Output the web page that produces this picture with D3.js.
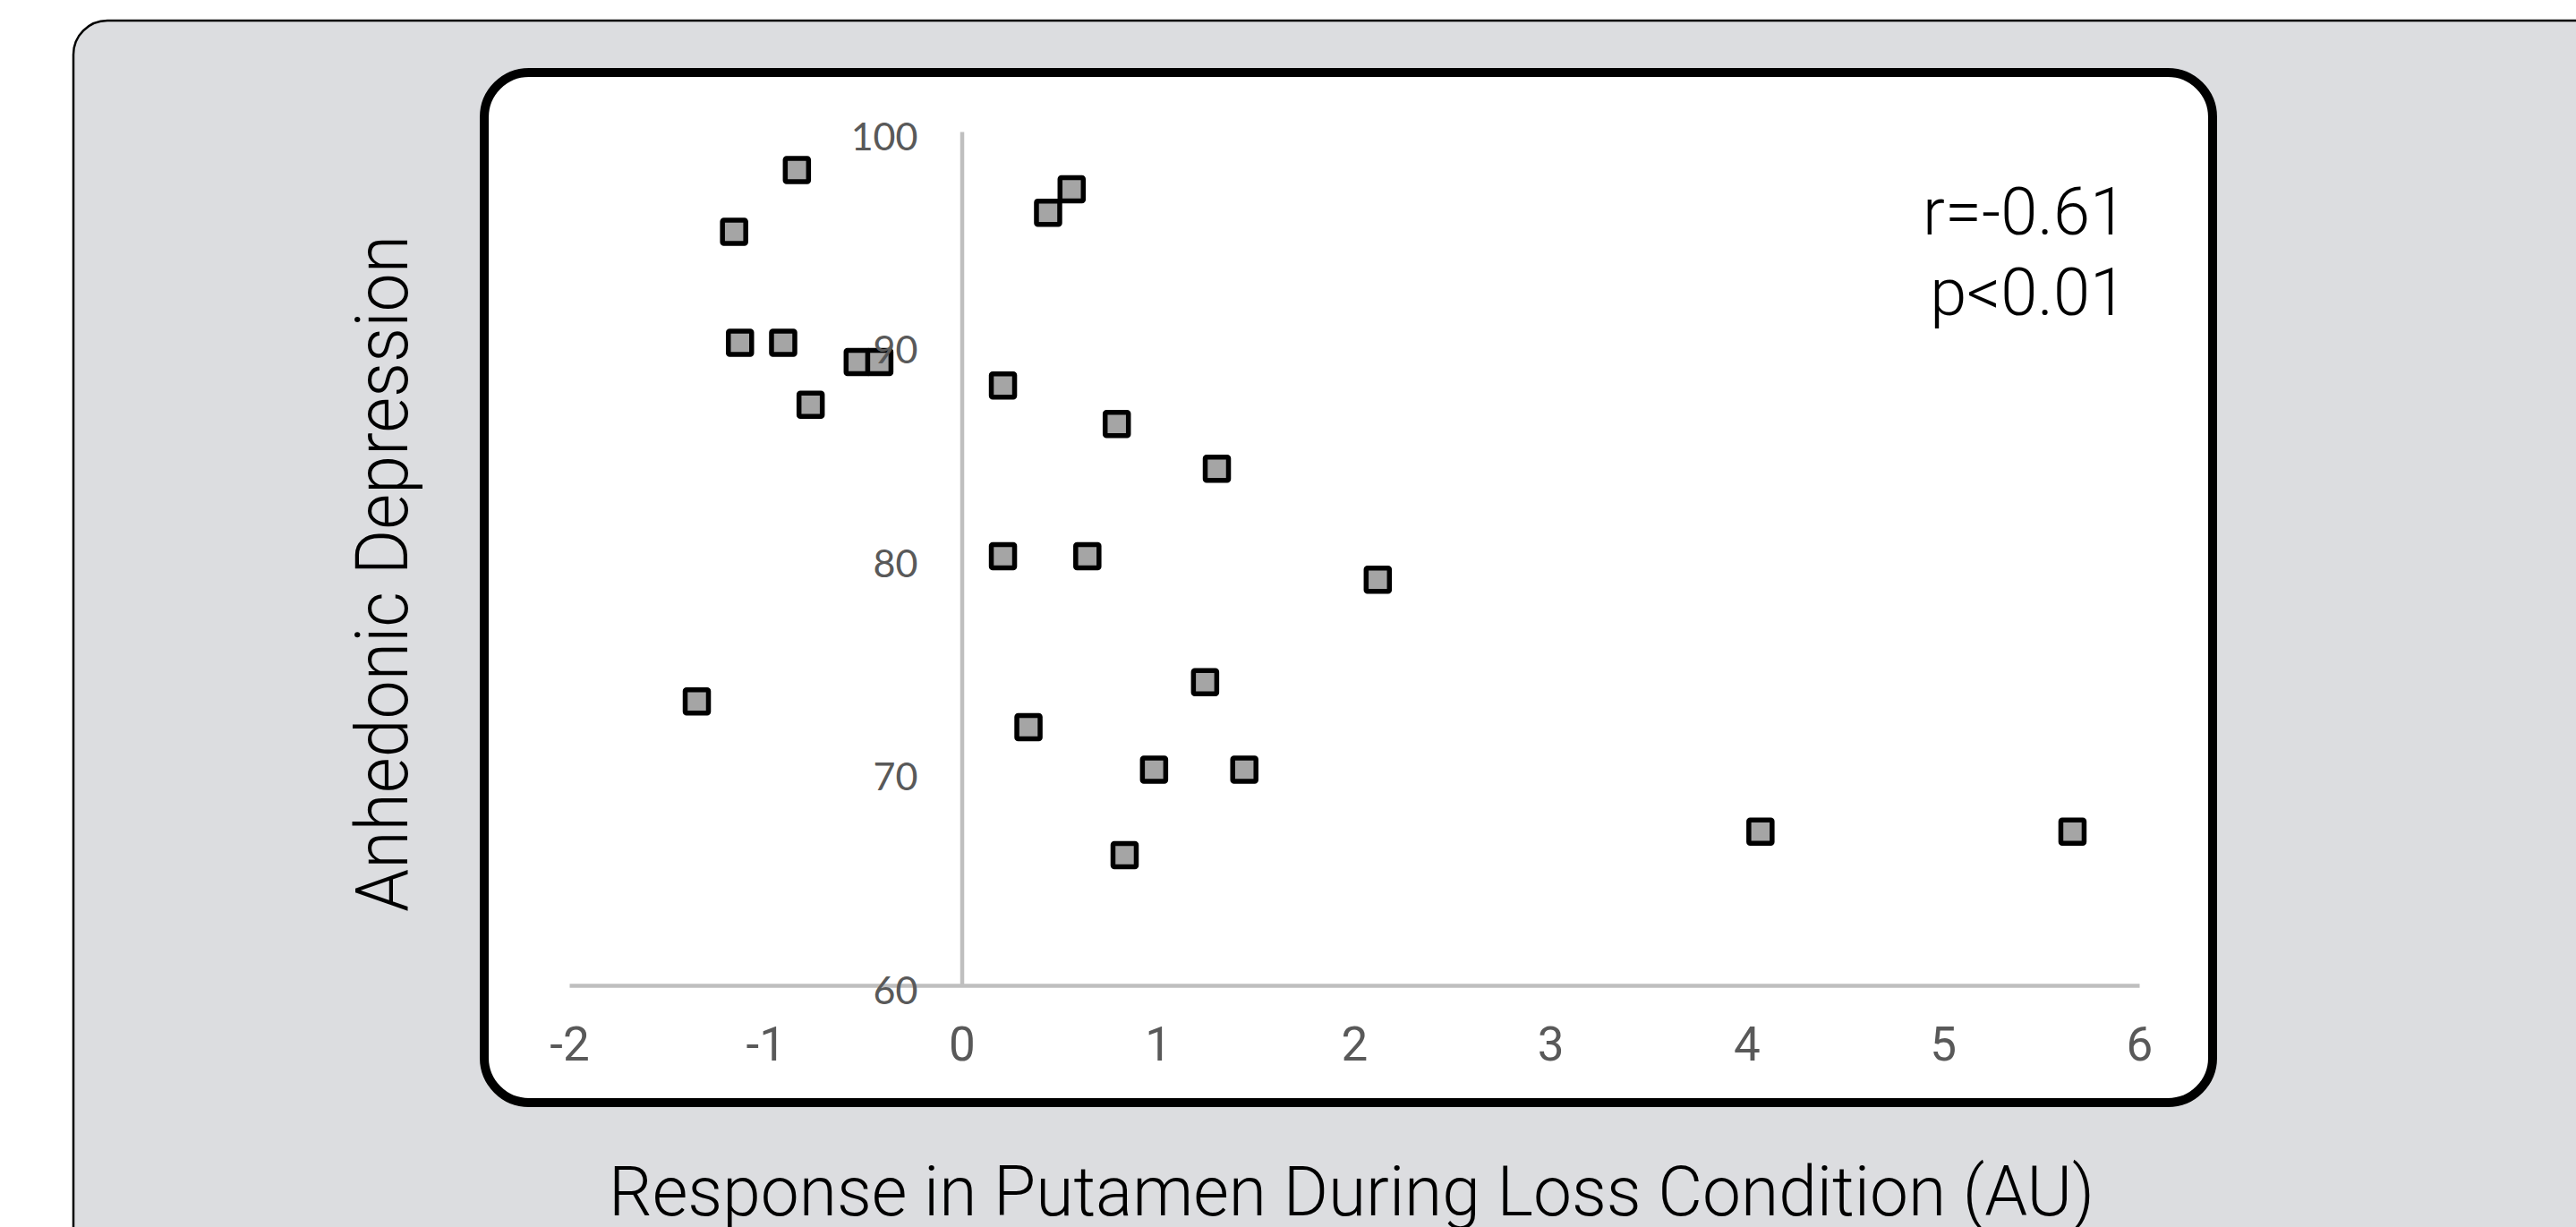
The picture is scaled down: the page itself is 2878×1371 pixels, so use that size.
<!DOCTYPE html>
<html>
<head>
<meta charset="utf-8">
<script src="https://cdn.jsdelivr.net/npm/d3@7"></script>
<style>
  html, body { margin: 0; padding: 0; background: #ffffff; }
  svg { display: block; }
</style>
</head>
<body>
<div id="chart"></div>
<script>
// response in putamen (AU) for each subject
const putamenResponse = [-0.84, -1.16, -1.13, -0.91, -0.53, -0.42, -0.77, -1.35,
    0.44, 0.56, 0.21, 0.79, 1.30, 0.21, 0.64, 2.12, 1.24, 0.34, 0.98, 1.44, 0.83, 4.07, 5.66];
// anhedonic depression score, same order
const anhedonicScore = [98.2, 95.3, 90.1, 90.1, 89.2, 89.2, 87.2, 73.3,
    96.2, 97.3, 88.1, 86.3, 84.2, 80.1, 80.1, 79.0, 74.2, 72.1, 70.1, 70.1, 66.1, 67.2, 67.2];
const xTicks = [-2, -1, 0, 1, 2, 3, 4, 5, 6];
const yTicks = [60, 70, 80, 90, 100];
const xTitle = "Response in Putamen During Loss Condition (AU)";
const yTitle = "Anhedonic Depression";
const statLines = ["r=-0.61", "p<0.01"];

const width = 2878, height = 1371;

const svg = d3.select("#chart").append("svg")
    .attr("width", width)
    .attr("height", height);

// grey background panel, runs off the right/bottom edge
svg.append("rect")
    .attr("x", 82).attr("y", 23)
    .attr("width", 2900).attr("height", 1400)
    .attr("rx", 38)
    .attr("fill", "#dcdde0")
    .attr("stroke", "#000").attr("stroke-width", 2.5);

// white plot card
svg.append("rect")
    .attr("x", 541).attr("y", 81)
    .attr("width", 1931).attr("height", 1151)
    .attr("rx", 50)
    .attr("fill", "#fff")
    .attr("stroke", "#000").attr("stroke-width", 10);

const x = d3.scaleLinear().domain([-2, 6]).range([636, 2390]);
const y = d3.scaleLinear().domain([60, 100]).range([1101, 147]);

const data = putamenResponse.map((v, i) => ({ x: v, y: anhedonicScore[i] }));

// markers
const side = 26;
svg.append("g")
    .selectAll("rect")
    .data(data)
    .join("rect")
    .attr("x", d => x(d.x) - side / 2)
    .attr("y", d => y(d.y) - side / 2)
    .attr("width", side)
    .attr("height", side)
    .attr("rx", 1.5)
    .attr("fill", "#a5a5a5")
    .attr("stroke", "#000")
    .attr("stroke-width", 5.5);

// x axis (plain hyphen for negatives, like the original)
const xAxis = svg.append("g")
    .attr("transform", `translate(0,${y(60)})`)
    .call(d3.axisBottom(x).tickValues(xTicks).tickFormat(d => String(d)).tickSize(0).tickSizeOuter(0).tickPadding(46));
xAxis.select(".domain").attr("stroke", "#bfbfbf").attr("stroke-width", 4.5);
xAxis.selectAll(".tick text")
    .attr("fill", "#595959")
    .attr("font-family", "Roboto, 'Liberation Sans', sans-serif")
    .attr("font-weight", 400)
    .attr("font-size", 53);

// y axis sits at x = 0
const yAxis = svg.append("g")
    .attr("transform", `translate(${x(0)},0)`)
    .call(d3.axisLeft(y).tickValues(yTicks).tickSize(0).tickSizeOuter(0).tickPadding(49));
yAxis.select(".domain").attr("stroke", "#bfbfbf").attr("stroke-width", 4.5);
yAxis.selectAll(".tick text")
    .attr("fill", "#595959")
    .attr("font-family", "Lato, 'Open Sans', sans-serif")
    .attr("font-size", 43)
    .attr("dy", 20);

// stats annotation
svg.append("g")
    .selectAll("text")
    .data(statLines)
    .join("text")
    .attr("x", 2376)
    .attr("y", (d, i) => 262 + i * 90)
    .attr("text-anchor", "end")
    .attr("font-family", "Roboto, 'Liberation Sans', sans-serif")
    .attr("font-weight", 300)
    .attr("font-size", 74)
    .attr("fill", "#000")
    .text(d => d);

// axis titles
svg.append("text")
    .attr("x", 1510)
    .attr("y", 1358)
    .attr("text-anchor", "middle")
    .attr("font-family", "Roboto, 'Liberation Sans', sans-serif")
    .attr("font-weight", 300)
    .attr("font-size", 78)
    .attr("textLength", 1660)
    .attr("lengthAdjust", "spacingAndGlyphs")
    .text(xTitle);

svg.append("text")
    .attr("transform", "translate(455,641) rotate(-90)")
    .attr("text-anchor", "middle")
    .attr("font-family", "Roboto, 'Liberation Sans', sans-serif")
    .attr("font-weight", 300)
    .attr("font-size", 82)
    .attr("textLength", 756)
    .attr("lengthAdjust", "spacingAndGlyphs")
    .text(yTitle);
</script>
</body>
</html>
